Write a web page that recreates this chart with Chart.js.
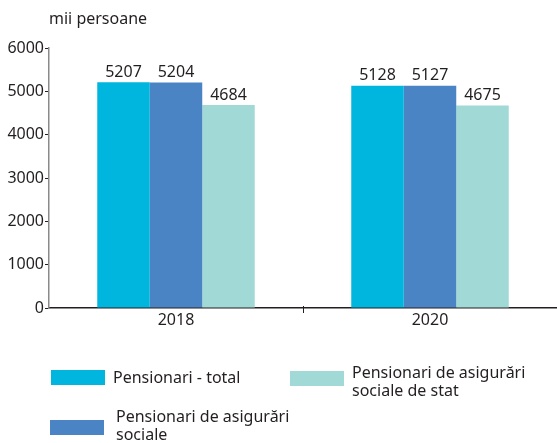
<!DOCTYPE html>
<html lang="ro">
<head>
  <meta charset="UTF-8" />
  <title>Pensionari</title>
  <script src="https://cdn.jsdelivr.net/npm/chart.js"></script>
  <style>
    body { margin: 0; background: #fff; }
    .wrap { position: relative; width: 557px; height: 443px; overflow: hidden; font-family: "Noto Sans", sans-serif; color: #231f20; }
    .unit { position: absolute; left: 49px; top: 7px; font-size: 16px; }
    .leg { position: absolute; font-size: 16px; line-height: 18px; }
    .box { position: absolute; width: 54px; height: 15px; }
  </style>
</head>
<body>
  <div class="wrap">
    <canvas id="chart" width="557" height="443"></canvas>
    <div class="unit">mii persoane</div>
    <div id="legend"></div>
  </div>

  <script>
    const years = ['2018', '2020'];
    const seriesNames = ['Pensionari - total', 'Pensionari de asigurări sociale', 'Pensionari de asigurări sociale de stat'];
    const total = [5207, 5128];
    const social = [5204, 5127];
    const stateSocial = [4684, 4675];
    const colors = ['#00b5de', '#4b84c4', '#a0d9d5'];
    const yTicks = [0, 1000, 2000, 3000, 4000, 5000, 6000];

    // legend placement (html, below chart)
    const legendItems = [
      { box: [51, 370], text: [113, 368], lines: ['Pensionari - total'] },
      { box: [50, 420], text: [116, 407], lines: ['Pensionari de asigurări', 'sociale'] },
      { box: [290, 371], text: [352, 363], lines: ['Pensionari de asigurări', 'sociale de stat'] }
    ];
    const legend = document.getElementById('legend');
    legendItems.forEach((it, i) => {
      const b = document.createElement('div');
      b.className = 'box';
      b.style.left = it.box[0] + 'px';
      b.style.top = it.box[1] + 'px';
      b.style.background = colors[i];
      legend.appendChild(b);
      const t = document.createElement('div');
      t.className = 'leg';
      t.style.left = it.text[0] + 'px';
      t.style.top = it.text[1] + 'px';
      t.innerHTML = it.lines.join('<br>');
      legend.appendChild(t);
    });

    const valueLabels = {
      id: 'valueLabels',
      afterDatasetsDraw(chart) {
        const ctx = chart.ctx;
        ctx.save();
        ctx.font = '16px "Noto Sans", sans-serif';
        ctx.fillStyle = '#231f20';
        ctx.textAlign = 'center';
        ctx.textBaseline = 'bottom';
        chart.data.datasets.forEach((ds, di) => {
          chart.getDatasetMeta(di).data.forEach((bar, i) => {
            ctx.fillText(ds.data[i], bar.x, bar.y - 2);
          });
        });
        ctx.restore();
      }
    };

    // category boundary tick on the x axis
    const midTick = {
      id: 'midTick',
      afterDraw(chart) {
        const ctx = chart.ctx;
        const x = chart.scales.x;
        const y0 = chart.chartArea.bottom;
        ctx.save();
        ctx.strokeStyle = '#231f20';
        ctx.lineWidth = 1;
        for (let i = 1; i < years.length; i++) {
          const px = Math.round((x.getPixelForTick(i - 1) + x.getPixelForTick(i)) / 2) + 0.5;
          ctx.beginPath();
          ctx.moveTo(px, y0 - 2);
          ctx.lineTo(px, y0 + 5);
          ctx.stroke();
        }
        ctx.restore();
      }
    };

    new Chart(document.getElementById('chart'), {
      type: 'bar',
      data: {
        labels: years,
        datasets: [
          { label: seriesNames[0], data: total, backgroundColor: colors[0] },
          { label: seriesNames[1], data: social, backgroundColor: colors[1] },
          { label: seriesNames[2], data: stateSocial, backgroundColor: colors[2] }
        ]
      },
      options: {
        responsive: false,
        animation: false,
        layout: { padding: { top: 48, right: 0, left: 0, bottom: 0 } },
        plugins: { legend: { display: false }, tooltip: { enabled: false } },
        datasets: { bar: { categoryPercentage: 0.62, barPercentage: 1 } },
        scales: {
          x: {
            grid: { display: false, drawTicks: false },
            border: { color: '#231f20', width: 1.5 },
            ticks: { color: '#231f20', font: { family: 'Noto Sans', size: 16 }, padding: 3 },
            afterFit(s) { s.height = 135; }
          },
          y: {
            min: 0,
            max: 6000,
            afterBuildTicks(s) { s.ticks = yTicks.map(v => ({ value: v })); },
            grid: { display: true, drawOnChartArea: false, tickLength: 4, color: '#231f20' },
            border: { color: '#8a8a8a', width: 1.5 },
            ticks: {
              color: '#231f20',
              font: { family: 'Noto Sans', size: 16 },
              padding: 1,
              callback: v => String(v)
            },
            afterFit(s) { s.width = 49; }
          }
        }
      },
      plugins: [valueLabels, midTick]
    });
  </script>
</body>
</html>
